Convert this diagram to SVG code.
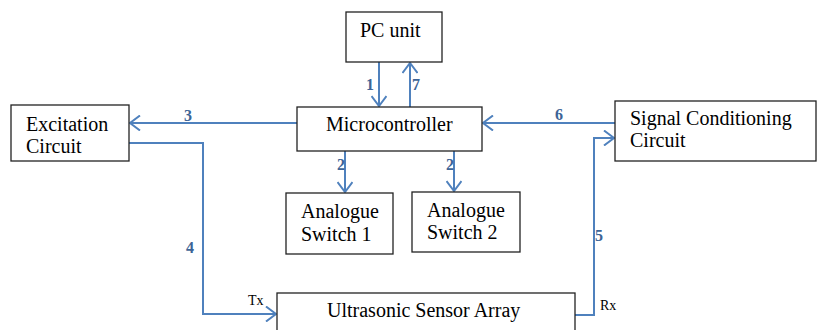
<svg xmlns="http://www.w3.org/2000/svg" width="817" height="330" viewBox="0 0 817 330">
<style>
.box{fill:#fff;stroke:#222;stroke-width:1.3}
.t{font-family:"Liberation Serif","Times New Roman",serif;font-size:20px;fill:#000}
.s{font-family:"Liberation Serif","Times New Roman",serif;font-size:14px;fill:#000}
.c{fill:none;stroke:#4f81bd;stroke-width:2;marker-end:url(#ah)}
.n{font-family:"Liberation Serif","Times New Roman",serif;font-size:16px;font-weight:bold;fill:#3d6496;text-anchor:middle}
</style>
<defs>
<marker id="ah" viewBox="0 0 12 16" refX="11" refY="8" markerWidth="12" markerHeight="16" markerUnits="userSpaceOnUse" orient="auto">
<path d="M1,0.5 L11,8 L1,15.5" fill="none" stroke="#4f81bd" stroke-width="2"/>
</marker>
</defs>
<g id="connectors">
<path class="c" d="M379,62 V106"/>
<path class="c" d="M410,107 V63"/>
<path class="c" d="M345,151 V192"/>
<path class="c" d="M454,151 V191"/>
<path class="c" d="M297,123 H130"/>
<path class="c" d="M129,143 H203 V314 H276"/>
<path class="c" d="M615,123 H483"/>
<path class="c" d="M575,315 H594 V138 H614"/>
<text class="n" x="370" y="90">1</text>
<text class="n" x="416" y="90">7</text>
<text class="n" x="341" y="170">2</text>
<text class="n" x="450" y="170">2</text>
<text class="n" x="188" y="121">3</text>
<text class="n" x="190" y="253">4</text>
<text class="n" x="559" y="120">6</text>
<text class="n" x="599" y="241">5</text>
<text class="s" x="248" y="305">Tx</text>
<text class="s" x="600" y="310">Rx</text>
</g>
<g id="pc">
<rect class="box" x="346" y="12" width="96" height="50"/>
<text class="t" x="360" y="37">PC unit</text>
</g>
<g id="mcu">
<rect class="box" x="297" y="107" width="185" height="44"/>
<text class="t" x="326" y="131">Microcontroller</text>
</g>
<g id="excitation">
<rect class="box" x="11" y="105" width="118" height="56"/>
<text class="t" x="26" y="131">Excitation</text>
<text class="t" x="26" y="153">Circuit</text>
</g>
<g id="signal">
<rect class="box" x="615" y="101" width="201" height="60"/>
<text class="t" x="630" y="125">Signal Conditioning</text>
<text class="t" x="630" y="147">Circuit</text>
</g>
<g id="switch1">
<rect class="box" x="286" y="193" width="107" height="61"/>
<text class="t" x="301" y="218">Analogue</text>
<text class="t" x="301" y="241">Switch 1</text>
</g>
<g id="switch2">
<rect class="box" x="412" y="192" width="108" height="60"/>
<text class="t" x="427" y="217">Analogue</text>
<text class="t" x="427" y="239">Switch 2</text>
</g>
<g id="sensor">
<rect class="box" x="277" y="293" width="298" height="45"/>
<text class="t" x="327" y="317">Ultrasonic Sensor Array</text>
</g>
</svg>
